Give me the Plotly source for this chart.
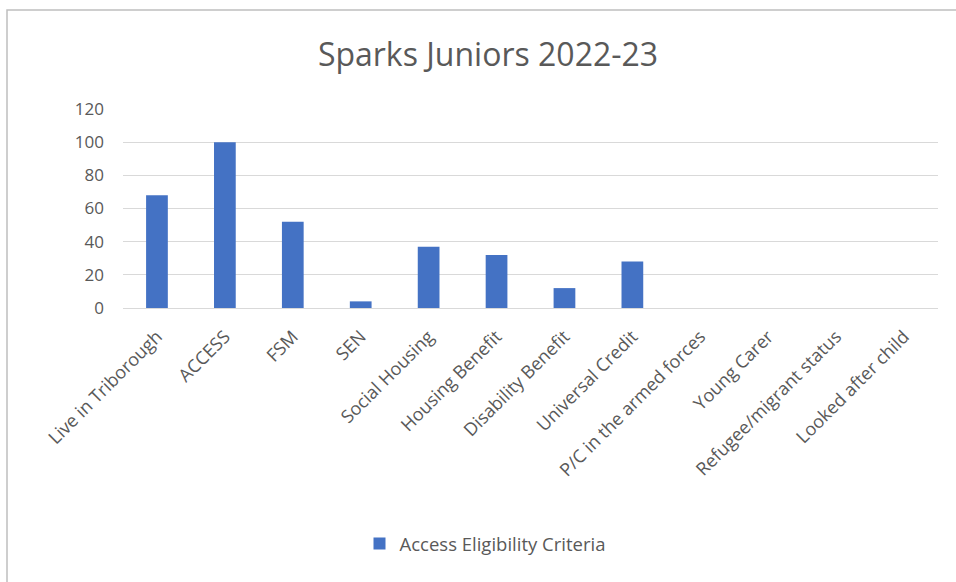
import plotly.graph_objects as go

categories = ["Live in Triborough", "ACCESS", "FSM", "SEN", "Social Housing", "Housing Benefit",
              "Disability Benefit", "Universal Credit", "P/C in the armed forces", "Young Carer",
              "Refugee/migrant status", "Looked after child"]
values = [68, 100, 52, 4, 37, 32, 12, 28, 0, 0, 0, 0]
series_name = "Access Eligibility Criteria"
title_text = "Sparks Juniors 2022-23"

W, H = 956, 582
L, R, T, B = 123, 18, 109, 274
pw, ph = W - L - R, H - T - B

fig = go.Figure()
fig.add_trace(go.Bar(x=categories, y=values, name=series_name, marker_color="#4472C4",
                     marker_line_width=0, showlegend=True))

fig.update_layout(
    width=W, height=H,
    margin=dict(l=L, r=R, t=T, b=B),
    paper_bgcolor="white", plot_bgcolor="white",
    font=dict(family="Open Sans, sans-serif", color="#595959", size=13),
    title=dict(text=title_text, x=488 / W, xref="container", xanchor="center",
               y=1 - 55 / H, yref="container", yanchor="middle",
               font=dict(size=32, color="#595959")),
    bargap=0.68,
    showlegend=True,
    legend=dict(orientation="h", x=(485 - L) / pw, xanchor="center",
                y=(H - B - 544) / ph, yanchor="middle", font=dict(size=18.5, color="#595959"),
                itemwidth=30),
    xaxis=dict(tickangle=-45, showgrid=False, showline=True, linecolor="#d9d9d9",
               ticks="", tickfont=dict(size=18, color="#595959"), ticklabelstandoff=10),
    yaxis=dict(range=[0, 120], dtick=20, showgrid=True, gridcolor="#d9d9d9",
               zeroline=False, ticks="", tickfont=dict(size=17, color="#595959"),
               ticklabelstandoff=18),
    shapes=[dict(type="rect", xref="paper", yref="paper",
                 x0=(7 - L) / pw, x1=(W + 10 - L) / pw,
                 y0=(H - B - (H + 10)) / ph, y1=(H - B - 10) / ph,
                 line=dict(color="#bfbfbf", width=1.5), fillcolor="rgba(0,0,0,0)", layer="below")],
)

fig.write_html("out.html")
